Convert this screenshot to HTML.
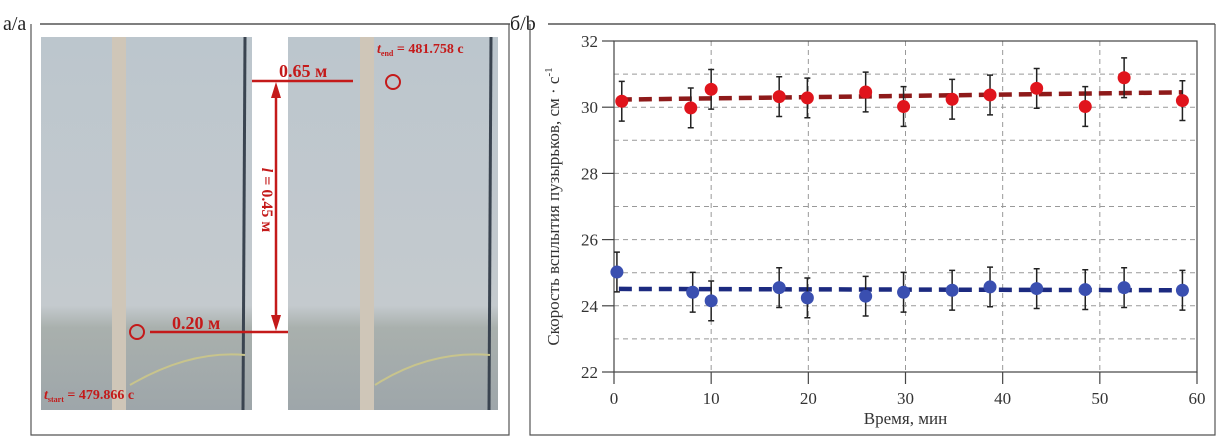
<!DOCTYPE html>
<html><head><meta charset="utf-8">
<style>
html,body{margin:0;padding:0;background:#fff;}
svg{display:block;font-family:"Liberation Serif","DejaVu Serif",serif;}
</style></head>
<body>
<svg id="fig" width="1224" height="445" viewBox="0 0 1224 445" xmlns="http://www.w3.org/2000/svg">
  <defs>
    <linearGradient id="photoGrad" x1="0" y1="0" x2="0" y2="1">
      <stop offset="0" stop-color="#bcc6cd"/>
      <stop offset="0.72" stop-color="#c4cace"/>
      <stop offset="0.78" stop-color="#a9b0ad"/>
      <stop offset="1" stop-color="#9ea6aa"/>
    </linearGradient>
  </defs>

  <!-- panel a -->
  <g>
    <text x="3" y="30" font-size="20" fill="#222">а/а</text>
    <line x1="40" y1="24" x2="510" y2="24" stroke="#333" stroke-width="1.2"/>
    <polyline points="31,24 31,435 509,435 509,24" fill="none" stroke="#555" stroke-width="1.2"/>
    <g>
      <rect x="41" y="37" width="211" height="373" fill="url(#photoGrad)"/>
      <rect x="112" y="37" width="14" height="373" fill="#cfc6b8"/>
      <line x1="245" y1="37" x2="243" y2="410" stroke="#3a4450" stroke-width="3"/>
      <path d="M130,385 Q190,350 245,355" fill="none" stroke="#c8c48c" stroke-width="2"/>
    </g>
    <g>
      <rect x="288" y="37" width="210" height="373" fill="url(#photoGrad)"/>
      <rect x="360" y="37" width="14" height="373" fill="#cfc6b8"/>
      <line x1="491" y1="37" x2="489" y2="410" stroke="#3a4450" stroke-width="3"/>
      <path d="M375,385 Q430,350 490,355" fill="none" stroke="#c8c48c" stroke-width="2"/>
    </g>
    <g fill="#c41a1a" stroke="none" font-weight="bold">
      <line x1="150" y1="332" x2="288" y2="332" stroke="#c41a1a" stroke-width="2.5"/>
      <line x1="252" y1="81" x2="353" y2="81" stroke="#c41a1a" stroke-width="2.5"/>
      <line x1="276" y1="95" x2="276" y2="318" stroke="#c41a1a" stroke-width="2.5"/>
      <polygon points="276,82 271,98 281,98" fill="#c41a1a"/>
      <polygon points="276,331 271,315 281,315" fill="#c41a1a"/>
      <circle cx="137" cy="332" r="7" fill="none" stroke="#c41a1a" stroke-width="2"/>
      <circle cx="393" cy="82" r="7" fill="none" stroke="#c41a1a" stroke-width="2"/>
      <text x="172" y="329" font-size="18">0.20 м</text>
      <text x="279" y="77" font-size="18">0.65 м</text>
      <text transform="translate(262,200) rotate(90)" text-anchor="middle" font-size="16"><tspan font-style="italic">l</tspan> = 0.45 м</text>
      <text x="377" y="53" font-size="14"><tspan font-style="italic">t</tspan><tspan font-size="8" dy="3">end</tspan><tspan dy="-3"> = 481.758 с</tspan></text>
      <text x="44" y="399" font-size="14"><tspan font-style="italic">t</tspan><tspan font-size="8" dy="3">start</tspan><tspan dy="-3"> = 479.866 с</tspan></text>
    </g>
  </g>

  <!-- panel b -->
  <g>
    <text x="510" y="30" font-size="20" fill="#222">б/b</text>
    <line x1="548" y1="24" x2="1215" y2="24" stroke="#333" stroke-width="1.2"/>
    <polyline points="530,24 530,435 1215,435 1215,24" fill="none" stroke="#555" stroke-width="1.2"/>
    <g id="chart"></g>
  </g>
</svg>
<script>
const xTicks = [0, 10, 20, 30, 40, 50, 60];
const yTicks = [22, 24, 26, 28, 30, 32];
const yGrid = [23, 24, 25, 26, 27, 28, 29, 30, 31];
const redTimes = [0.8, 7.9, 10.0, 17.0, 19.9, 25.9, 29.8, 34.8, 38.7, 43.5, 48.5, 52.5, 58.5];
const redValues = [30.18, 29.98, 30.54, 30.32, 30.28, 30.46, 30.02, 30.24, 30.37, 30.57, 30.02, 30.89, 30.2];
const redErrors = [0.6, 0.6, 0.6, 0.6, 0.6, 0.6, 0.6, 0.6, 0.6, 0.6, 0.6, 0.6, 0.6];
const redTrend = [30.23, 30.45];
const blueTimes = [0.3, 8.1, 10.0, 17.0, 19.9, 25.9, 29.8, 34.8, 38.7, 43.5, 48.5, 52.5, 58.5];
const blueValues = [25.02, 24.41, 24.15, 24.55, 24.24, 24.29, 24.41, 24.47, 24.57, 24.52, 24.49, 24.55, 24.47];
const blueErrors = [0.6, 0.6, 0.6, 0.6, 0.6, 0.6, 0.6, 0.6, 0.6, 0.6, 0.6, 0.6, 0.6];
const blueTrend = [24.51, 24.47];
const trendTimes = [0.5, 58.5];

const NS = "http://www.w3.org/2000/svg";
const L = 614, R = 1197, T = 41, B = 372;
const xMin = 0, xMax = 60, yMin = 22, yMax = 32;
function sx(v){ return L + (v - xMin) / (xMax - xMin) * (R - L); }
function sy(v){ return B - (v - yMin) / (yMax - yMin) * (B - T); }
const chart = document.getElementById('chart');
function mk(tag, attrs, parent){
  const e = document.createElementNS(NS, tag);
  for (const k in attrs) e.setAttribute(k, attrs[k]);
  (parent || chart).appendChild(e);
  return e;
}

yGrid.forEach(v => {
  const g = mk('line', {x1:L, x2:R, y1:sy(v), y2:sy(v), stroke:'#999', 'stroke-width':1, 'stroke-dasharray':'5,4'});
  
  
});
xTicks.slice(1, -1).forEach(v => {
  const g = mk('line', {x1:sx(v), x2:sx(v), y1:T, y2:B, stroke:'#999', 'stroke-width':1, 'stroke-dasharray':'5,4'});
  
  
});

const box = mk('rect', {x:L, y:T, width:R-L, height:B-T, fill:'none', stroke:'#444', 'stroke-width':1.2});



yTicks.forEach(v => {
  const t = mk('line', {x1:L-12, x2:L, y1:sy(v), y2:sy(v), stroke:'#444', 'stroke-width':1.2});
  
  
  const lb = mk('text', {x:L-16, y:sy(v)+6, 'text-anchor':'end', 'font-size':17, fill:'#333'});
  lb.textContent = v;
  
  
});
xTicks.forEach(v => {
  const t = mk('line', {x1:sx(v), x2:sx(v), y1:B, y2:B+12, stroke:'#444', 'stroke-width':1.2});
  
  
  const lb = mk('text', {x:sx(v), y:B+32, 'text-anchor':'middle', 'font-size':17, fill:'#333'});
  lb.textContent = v;
  
  
});

const xt = mk('text', {x:(L+R)/2, y:424, 'text-anchor':'middle', 'font-size':17, fill:'#333'});
xt.textContent = 'Время, мин';


const yt = mk('text', {transform:'translate(559,' + ((T+B)/2) + ') rotate(-90)', 'text-anchor':'middle', 'font-size':17, fill:'#333'});
yt.innerHTML = 'Скорость всплытия пузырьков, см · с<tspan font-size="11" dy="-7">-1</tspan>';



function series(times, vals, errs, trend, color, lineColor, name){
  const tl = mk('line', {x1:sx(trendTimes[0]), y1:sy(trend[0]), x2:sx(trendTimes[1]), y2:sy(trend[1]), stroke:lineColor, 'stroke-width':4.5, 'stroke-dasharray':'13,7'});
  
  
  times.forEach((t, i) => {
    const x = sx(t), y1 = sy(vals[i] + errs[i]), y2 = sy(vals[i] - errs[i]);
    const eb = mk('path', {d:'M'+x+','+y1+'V'+y2+'M'+(x-3)+','+y1+'h6M'+(x-3)+','+y2+'h6', stroke:'#222', 'stroke-width':1.5, fill:'none'});
    
    
    const c = mk('circle', {cx:x, cy:sy(vals[i]), r:6.5, fill:color});
    
    
  });
}
series(redTimes, redValues, redErrors, redTrend, '#e0141c', '#8e1a1a', 'red-series');
series(blueTimes, blueValues, blueErrors, blueTrend, '#3a4fb0', '#1c2a80', 'blue-series');
</script>
</body></html>
